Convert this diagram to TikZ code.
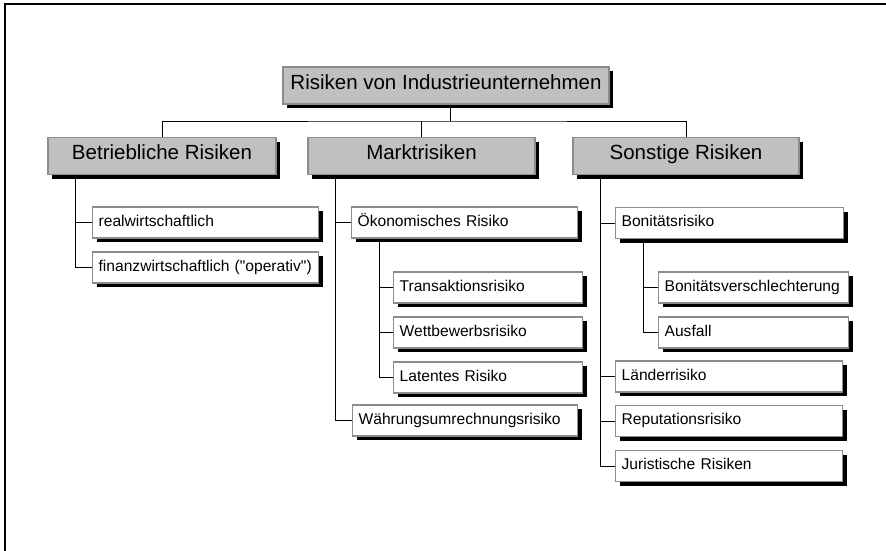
\documentclass[tikz,border=0pt]{standalone}
\usepackage{fontspec}
\setmainfont{Liberation Sans}
\usetikzlibrary{shadows,backgrounds}
\definecolor{headgray}{HTML}{C0C0C0}
\definecolor{edgegray}{HTML}{8C8C8C}
% straight double quote, typeset as a glyph so the TeX ligature mapping leaves it alone
\newcommand\straightqq{\XeTeXglyph\numexpr\XeTeXcharglyph"22\relax}

\tikzset{
  basebox/.style={draw=edgegray, line width=1.3pt, inner ysep=0pt,
    text height=0.72em, text depth=0pt,
    drop shadow={shadow xshift=4pt, shadow yshift=-4pt, fill=black, opacity=1}},
  headbox/.style={basebox, fill=headgray, minimum height=37pt, inner xsep=0pt,
    font=\fontsize{20.5}{24}\selectfont, align=center},
  itembox/.style={basebox, fill=white, minimum height=31pt, anchor=west,
    inner xsep=6pt, align=left, font=\fontsize{15.6}{18}\selectfont},
  link/.style={draw=black, line width=1pt},
  frameline/.style={draw=black, line width=2pt},
}

\begin{document}
\begin{tikzpicture}[x=1pt, y=-1pt]
  \useasboundingbox (0,0) rectangle (886,550);
  \draw[frameline] (5,551) -- (5,4.3) -- (887,4.3);

  % top level and the three main groups
  \node[headbox, minimum width=326pt] (root)  at (446,85.5) {Risiken von Industrieunternehmen};
  \node[headbox, minimum width=228pt] (betr)  at (162,156)  {Betriebliche Risiken};
  \node[headbox, minimum width=227pt] (markt) at (421.5,156) {Marktrisiken};
  \node[headbox, minimum width=226pt] (sonst) at (686,156)  {Sonstige Risiken};
  \coordinate (bus) at (450,121);

  % operational risks
  \node[itembox, text width=214pt] (real)   at (92,222.5) {realwirtschaftlich};
  \node[itembox, text width=214pt] (finanz) at (92,267.5) {finanzwirtschaftlich (\straightqq operativ\straightqq)};

  % market risks
  \node[itembox, text width=214pt] (oeko)  at (351,222.5) {Ökonomisches Risiko};
  \node[itembox, text width=177pt] (trans) at (393,287.5) {Transaktionsrisiko};
  \node[itembox, text width=177pt] (wett)  at (393,332.5) {Wettbewerbsrisiko};
  \node[itembox, text width=177pt] (lat)   at (393,377.5) {Latentes Risiko};
  \node[itembox, text width=213pt] (waehr) at (352,420.5) {Währungsumrechnungsrisiko};

  % other risks
  \node[itembox, text width=216pt] (boni)    at (615,223)   {Bonitätsrisiko};
  \node[itembox, text width=178pt] (bver)    at (658,287.5) {Bonitätsverschlechterung};
  \node[itembox, text width=178pt] (ausf)    at (658,332.5) {Ausfall};
  \node[itembox, text width=215pt] (laender) at (615,376.5) {Länderrisiko};
  \node[itembox, text width=215pt] (rep)     at (615,421)   {Reputationsrisiko};
  \node[itembox, text width=215pt] (jur)     at (615,466)   {Juristische Risiken};

  \begin{scope}[on background layer]
    % bus below the root box
    \draw[link] ([xshift=4pt]root.south) -- ([xshift=4pt]root.south |- bus);
    \draw[link] (betr.north) |- (bus) -| (sonst.north);
    \draw[link] (markt.north) -- (markt.north |- bus);

    % tree branches: each child hangs off a vertical line 28pt into its parent
    \foreach \p/\c in {betr/real, betr/finanz,
                       markt/oeko, markt/waehr,
                       oeko/trans, oeko/wett, oeko/lat,
                       sonst/boni, sonst/laender, sonst/rep, sonst/jur,
                       boni/bver, boni/ausf}
      \draw[link] (\c.west) -| ([xshift=28pt]\p.south west);
  \end{scope}
\end{tikzpicture}
\end{document}
